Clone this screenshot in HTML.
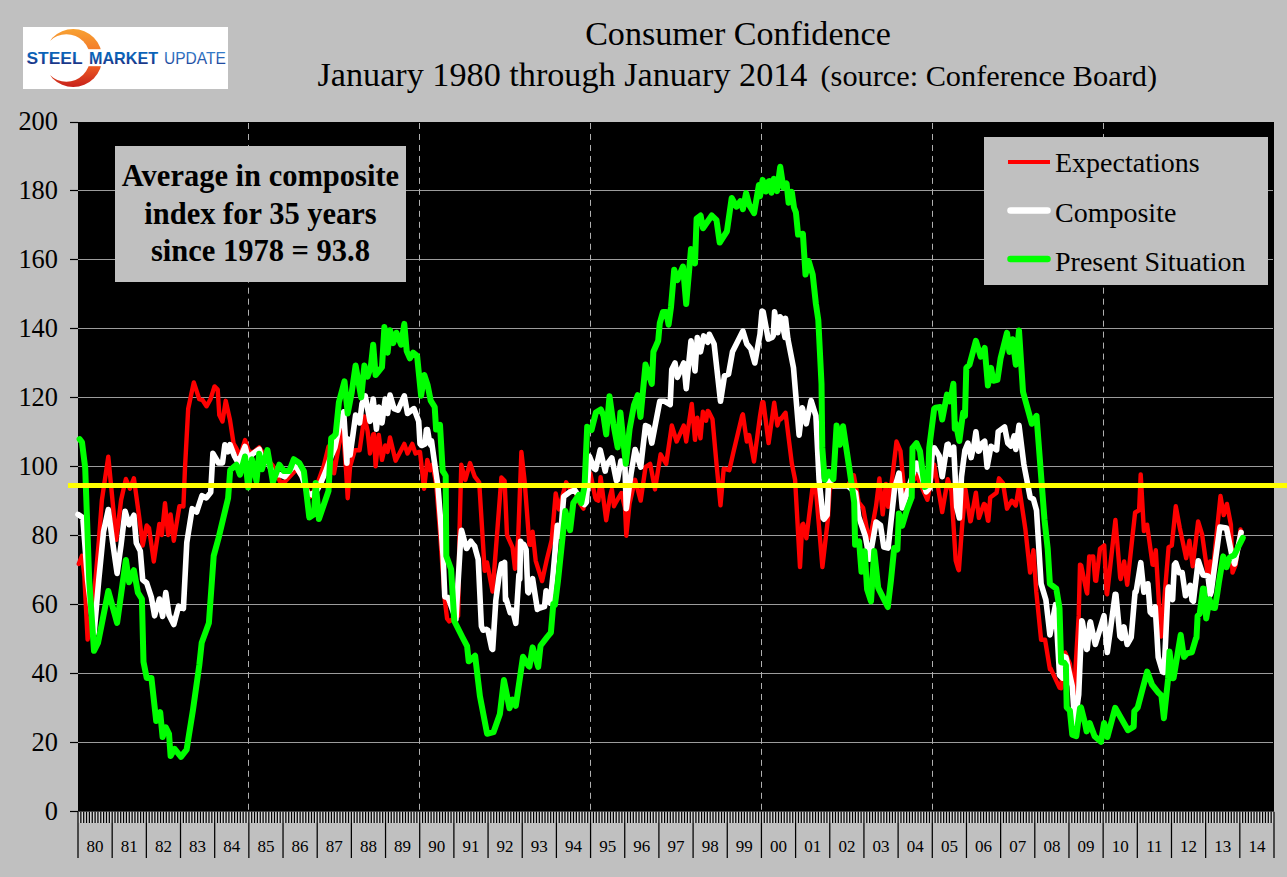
<!DOCTYPE html>
<html><head><meta charset="utf-8"><style>
html,body{margin:0;padding:0;background:#c0c0c0;width:1287px;height:877px;overflow:hidden}
svg{position:absolute;left:0;top:0;font-family:"Liberation Serif",serif;}
</style></head><body>
<svg width="1287" height="877" viewBox="0 0 1287 877">

<defs>
 <linearGradient id="og" x1="0" y1="0" x2="0" y2="1">
  <stop offset="0.1" stop-color="#f8a433"/><stop offset="0.55" stop-color="#f06224"/><stop offset="0.9" stop-color="#bf1218"/>
 </linearGradient>
 <linearGradient id="bg1" x1="0" y1="0" x2="0" y2="1">
  <stop offset="0.4" stop-color="#0b63b8"/><stop offset="0.8" stop-color="#1b3486"/>
 </linearGradient>
 <linearGradient id="bg2" x1="0" y1="0" x2="0" y2="1">
  <stop offset="0" stop-color="#3a8ad6"/><stop offset="1" stop-color="#1a3a90"/>
 </linearGradient>
 <mask id="cm">
  <rect x="0" y="0" width="300" height="120" fill="#000"/>
  <circle cx="73.2" cy="58" r="29" fill="#fff"/>
  <circle cx="66.4" cy="58" r="23.7" fill="#000"/>
  <rect x="0" y="0" width="50.5" height="120" fill="#000"/>
  <rect x="80" y="49.2" width="40" height="17" fill="#000"/>
 </mask>
</defs>
<rect x="23" y="27" width="205" height="62" fill="#fff"/>
<rect x="20" y="20" width="100" height="80" fill="url(#og)" mask="url(#cm)"/>
<text x="26.5" y="63.8" font-family="Liberation Sans" font-weight="bold" font-size="17.2" fill="url(#bg1)" textLength="56" lengthAdjust="spacingAndGlyphs">STEEL</text>
<text x="89" y="63.8" font-family="Liberation Sans" font-weight="bold" font-size="17" fill="url(#bg1)" textLength="69" lengthAdjust="spacingAndGlyphs">MARKET</text>
<text x="164" y="63.8" font-family="Liberation Sans" font-size="17" fill="url(#bg2)" textLength="61.8" lengthAdjust="spacingAndGlyphs">UPDATE</text>

<text x="738" y="45" font-size="34.1" text-anchor="middle">Consumer Confidence</text><text x="317.5" y="86" font-size="34.2">January 1980 through January 2014</text><text x="820.5" y="86" font-size="30.3">(source: Conference Board)</text>
<rect x="78.0" y="122.0" width="1196.0" height="689.8" fill="#000"/><line x1="78.0" x2="1273.0" y1="190.5" y2="190.5" stroke="#9c9c9c" stroke-width="1"/><line x1="78.0" x2="1273.0" y1="259.5" y2="259.5" stroke="#9c9c9c" stroke-width="1"/><line x1="78.0" x2="1273.0" y1="328.5" y2="328.5" stroke="#9c9c9c" stroke-width="1"/><line x1="78.0" x2="1273.0" y1="397.5" y2="397.5" stroke="#9c9c9c" stroke-width="1"/><line x1="78.0" x2="1273.0" y1="466.5" y2="466.5" stroke="#9c9c9c" stroke-width="1"/><line x1="78.0" x2="1273.0" y1="535.5" y2="535.5" stroke="#9c9c9c" stroke-width="1"/><line x1="78.0" x2="1273.0" y1="604.5" y2="604.5" stroke="#9c9c9c" stroke-width="1"/><line x1="78.0" x2="1273.0" y1="673.5" y2="673.5" stroke="#9c9c9c" stroke-width="1"/><line x1="78.0" x2="1273.0" y1="742.5" y2="742.5" stroke="#9c9c9c" stroke-width="1"/><line x1="70" x2="78.0" y1="122.5" y2="122.5" stroke="#000" stroke-width="1.2"/><line x1="70" x2="78.0" y1="190.5" y2="190.5" stroke="#000" stroke-width="1.2"/><line x1="70" x2="78.0" y1="259.5" y2="259.5" stroke="#000" stroke-width="1.2"/><line x1="70" x2="78.0" y1="328.5" y2="328.5" stroke="#000" stroke-width="1.2"/><line x1="70" x2="78.0" y1="397.5" y2="397.5" stroke="#000" stroke-width="1.2"/><line x1="70" x2="78.0" y1="466.5" y2="466.5" stroke="#000" stroke-width="1.2"/><line x1="70" x2="78.0" y1="535.5" y2="535.5" stroke="#000" stroke-width="1.2"/><line x1="70" x2="78.0" y1="604.5" y2="604.5" stroke="#000" stroke-width="1.2"/><line x1="70" x2="78.0" y1="673.5" y2="673.5" stroke="#000" stroke-width="1.2"/><line x1="70" x2="78.0" y1="742.5" y2="742.5" stroke="#000" stroke-width="1.2"/><line x1="70" x2="78.0" y1="811.5" y2="811.5" stroke="#000" stroke-width="1.2"/><line x1="248.5" x2="248.5" y1="123.0" y2="811.8" stroke="#b0b0b0" stroke-width="1" stroke-dasharray="6 4.98"/><line x1="419.5" x2="419.5" y1="123.0" y2="811.8" stroke="#b0b0b0" stroke-width="1" stroke-dasharray="6 4.98"/><line x1="590.5" x2="590.5" y1="123.0" y2="811.8" stroke="#b0b0b0" stroke-width="1" stroke-dasharray="6 4.98"/><line x1="761.5" x2="761.5" y1="123.0" y2="811.8" stroke="#b0b0b0" stroke-width="1" stroke-dasharray="6 4.98"/><line x1="932.5" x2="932.5" y1="123.0" y2="811.8" stroke="#b0b0b0" stroke-width="1" stroke-dasharray="6 4.98"/><line x1="1103.5" x2="1103.5" y1="123.0" y2="811.8" stroke="#b0b0b0" stroke-width="1" stroke-dasharray="6 4.98"/><rect x="78.0" y="811.8" width="1196.0" height="11" fill="#d4d4d4"/><path d="M78.00,811.8V858M80.85,811.8V823M83.70,811.8V823M86.54,811.8V823M89.39,811.8V823M92.24,811.8V823M95.09,811.8V823M97.93,811.8V823M100.78,811.8V823M103.63,811.8V823M106.48,811.8V823M109.32,811.8V823M112.17,811.8V858M115.02,811.8V823M117.87,811.8V823M120.71,811.8V823M123.56,811.8V823M126.41,811.8V823M129.26,811.8V823M132.10,811.8V823M134.95,811.8V823M137.80,811.8V823M140.65,811.8V823M143.50,811.8V823M146.34,811.8V858M149.19,811.8V823M152.04,811.8V823M154.89,811.8V823M157.73,811.8V823M160.58,811.8V823M163.43,811.8V823M166.28,811.8V823M169.12,811.8V823M171.97,811.8V823M174.82,811.8V823M177.67,811.8V823M180.51,811.8V858M183.36,811.8V823M186.21,811.8V823M189.06,811.8V823M191.90,811.8V823M194.75,811.8V823M197.60,811.8V823M200.45,811.8V823M203.30,811.8V823M206.14,811.8V823M208.99,811.8V823M211.84,811.8V823M214.69,811.8V858M217.53,811.8V823M220.38,811.8V823M223.23,811.8V823M226.08,811.8V823M228.92,811.8V823M231.77,811.8V823M234.62,811.8V823M237.47,811.8V823M240.31,811.8V823M243.16,811.8V823M246.01,811.8V823M248.86,811.8V858M251.70,811.8V823M254.55,811.8V823M257.40,811.8V823M260.25,811.8V823M263.10,811.8V823M265.94,811.8V823M268.79,811.8V823M271.64,811.8V823M274.49,811.8V823M277.33,811.8V823M280.18,811.8V823M283.03,811.8V858M285.88,811.8V823M288.72,811.8V823M291.57,811.8V823M294.42,811.8V823M297.27,811.8V823M300.11,811.8V823M302.96,811.8V823M305.81,811.8V823M308.66,811.8V823M311.50,811.8V823M314.35,811.8V823M317.20,811.8V858M320.05,811.8V823M322.90,811.8V823M325.74,811.8V823M328.59,811.8V823M331.44,811.8V823M334.29,811.8V823M337.13,811.8V823M339.98,811.8V823M342.83,811.8V823M345.68,811.8V823M348.52,811.8V823M351.37,811.8V858M354.22,811.8V823M357.07,811.8V823M359.91,811.8V823M362.76,811.8V823M365.61,811.8V823M368.46,811.8V823M371.30,811.8V823M374.15,811.8V823M377.00,811.8V823M379.85,811.8V823M382.70,811.8V823M385.54,811.8V858M388.39,811.8V823M391.24,811.8V823M394.09,811.8V823M396.93,811.8V823M399.78,811.8V823M402.63,811.8V823M405.48,811.8V823M408.32,811.8V823M411.17,811.8V823M414.02,811.8V823M416.87,811.8V823M419.71,811.8V858M422.56,811.8V823M425.41,811.8V823M428.26,811.8V823M431.10,811.8V823M433.95,811.8V823M436.80,811.8V823M439.65,811.8V823M442.50,811.8V823M445.34,811.8V823M448.19,811.8V823M451.04,811.8V823M453.89,811.8V858M456.73,811.8V823M459.58,811.8V823M462.43,811.8V823M465.28,811.8V823M468.12,811.8V823M470.97,811.8V823M473.82,811.8V823M476.67,811.8V823M479.51,811.8V823M482.36,811.8V823M485.21,811.8V823M488.06,811.8V858M490.90,811.8V823M493.75,811.8V823M496.60,811.8V823M499.45,811.8V823M502.30,811.8V823M505.14,811.8V823M507.99,811.8V823M510.84,811.8V823M513.69,811.8V823M516.53,811.8V823M519.38,811.8V823M522.23,811.8V858M525.08,811.8V823M527.92,811.8V823M530.77,811.8V823M533.62,811.8V823M536.47,811.8V823M539.31,811.8V823M542.16,811.8V823M545.01,811.8V823M547.86,811.8V823M550.70,811.8V823M553.55,811.8V823M556.40,811.8V858M559.25,811.8V823M562.10,811.8V823M564.94,811.8V823M567.79,811.8V823M570.64,811.8V823M573.49,811.8V823M576.33,811.8V823M579.18,811.8V823M582.03,811.8V823M584.88,811.8V823M587.72,811.8V823M590.57,811.8V858M593.42,811.8V823M596.27,811.8V823M599.11,811.8V823M601.96,811.8V823M604.81,811.8V823M607.66,811.8V823M610.50,811.8V823M613.35,811.8V823M616.20,811.8V823M619.05,811.8V823M621.90,811.8V823M624.74,811.8V858M627.59,811.8V823M630.44,811.8V823M633.29,811.8V823M636.13,811.8V823M638.98,811.8V823M641.83,811.8V823M644.68,811.8V823M647.52,811.8V823M650.37,811.8V823M653.22,811.8V823M656.07,811.8V823M658.91,811.8V858M661.76,811.8V823M664.61,811.8V823M667.46,811.8V823M670.30,811.8V823M673.15,811.8V823M676.00,811.8V823M678.85,811.8V823M681.70,811.8V823M684.54,811.8V823M687.39,811.8V823M690.24,811.8V823M693.09,811.8V858M695.93,811.8V823M698.78,811.8V823M701.63,811.8V823M704.48,811.8V823M707.32,811.8V823M710.17,811.8V823M713.02,811.8V823M715.87,811.8V823M718.71,811.8V823M721.56,811.8V823M724.41,811.8V823M727.26,811.8V858M730.10,811.8V823M732.95,811.8V823M735.80,811.8V823M738.65,811.8V823M741.50,811.8V823M744.34,811.8V823M747.19,811.8V823M750.04,811.8V823M752.89,811.8V823M755.73,811.8V823M758.58,811.8V823M761.43,811.8V858M764.28,811.8V823M767.12,811.8V823M769.97,811.8V823M772.82,811.8V823M775.67,811.8V823M778.51,811.8V823M781.36,811.8V823M784.21,811.8V823M787.06,811.8V823M789.90,811.8V823M792.75,811.8V823M795.60,811.8V858M798.45,811.8V823M801.30,811.8V823M804.14,811.8V823M806.99,811.8V823M809.84,811.8V823M812.69,811.8V823M815.53,811.8V823M818.38,811.8V823M821.23,811.8V823M824.08,811.8V823M826.92,811.8V823M829.77,811.8V858M832.62,811.8V823M835.47,811.8V823M838.31,811.8V823M841.16,811.8V823M844.01,811.8V823M846.86,811.8V823M849.70,811.8V823M852.55,811.8V823M855.40,811.8V823M858.25,811.8V823M861.10,811.8V823M863.94,811.8V858M866.79,811.8V823M869.64,811.8V823M872.49,811.8V823M875.33,811.8V823M878.18,811.8V823M881.03,811.8V823M883.88,811.8V823M886.72,811.8V823M889.57,811.8V823M892.42,811.8V823M895.27,811.8V823M898.11,811.8V858M900.96,811.8V823M903.81,811.8V823M906.66,811.8V823M909.50,811.8V823M912.35,811.8V823M915.20,811.8V823M918.05,811.8V823M920.90,811.8V823M923.74,811.8V823M926.59,811.8V823M929.44,811.8V823M932.29,811.8V858M935.13,811.8V823M937.98,811.8V823M940.83,811.8V823M943.68,811.8V823M946.52,811.8V823M949.37,811.8V823M952.22,811.8V823M955.07,811.8V823M957.91,811.8V823M960.76,811.8V823M963.61,811.8V823M966.46,811.8V858M969.30,811.8V823M972.15,811.8V823M975.00,811.8V823M977.85,811.8V823M980.70,811.8V823M983.54,811.8V823M986.39,811.8V823M989.24,811.8V823M992.09,811.8V823M994.93,811.8V823M997.78,811.8V823M1000.63,811.8V858M1003.48,811.8V823M1006.32,811.8V823M1009.17,811.8V823M1012.02,811.8V823M1014.87,811.8V823M1017.71,811.8V823M1020.56,811.8V823M1023.41,811.8V823M1026.26,811.8V823M1029.10,811.8V823M1031.95,811.8V823M1034.80,811.8V858M1037.65,811.8V823M1040.50,811.8V823M1043.34,811.8V823M1046.19,811.8V823M1049.04,811.8V823M1051.89,811.8V823M1054.73,811.8V823M1057.58,811.8V823M1060.43,811.8V823M1063.28,811.8V823M1066.12,811.8V823M1068.97,811.8V858M1071.82,811.8V823M1074.67,811.8V823M1077.51,811.8V823M1080.36,811.8V823M1083.21,811.8V823M1086.06,811.8V823M1088.90,811.8V823M1091.75,811.8V823M1094.60,811.8V823M1097.45,811.8V823M1100.30,811.8V823M1103.14,811.8V858M1105.99,811.8V823M1108.84,811.8V823M1111.69,811.8V823M1114.53,811.8V823M1117.38,811.8V823M1120.23,811.8V823M1123.08,811.8V823M1125.92,811.8V823M1128.77,811.8V823M1131.62,811.8V823M1134.47,811.8V823M1137.31,811.8V858M1140.16,811.8V823M1143.01,811.8V823M1145.86,811.8V823M1148.70,811.8V823M1151.55,811.8V823M1154.40,811.8V823M1157.25,811.8V823M1160.10,811.8V823M1162.94,811.8V823M1165.79,811.8V823M1168.64,811.8V823M1171.49,811.8V858M1174.33,811.8V823M1177.18,811.8V823M1180.03,811.8V823M1182.88,811.8V823M1185.72,811.8V823M1188.57,811.8V823M1191.42,811.8V823M1194.27,811.8V823M1197.11,811.8V823M1199.96,811.8V823M1202.81,811.8V823M1205.66,811.8V858M1208.50,811.8V823M1211.35,811.8V823M1214.20,811.8V823M1217.05,811.8V823M1219.90,811.8V823M1222.74,811.8V823M1225.59,811.8V823M1228.44,811.8V823M1231.29,811.8V823M1234.13,811.8V823M1236.98,811.8V823M1239.83,811.8V858M1242.68,811.8V823M1245.52,811.8V823M1248.37,811.8V823M1251.22,811.8V823M1254.07,811.8V823M1256.91,811.8V823M1259.76,811.8V823M1262.61,811.8V823M1265.46,811.8V823M1268.30,811.8V823M1271.15,811.8V823M1274.00,811.8V858" stroke="#000" stroke-width="1.25" fill="none"/><text x="95.1" y="851.5" font-size="17" text-anchor="middle">80</text><text x="129.3" y="851.5" font-size="17" text-anchor="middle">81</text><text x="163.4" y="851.5" font-size="17" text-anchor="middle">82</text><text x="197.6" y="851.5" font-size="17" text-anchor="middle">83</text><text x="231.8" y="851.5" font-size="17" text-anchor="middle">84</text><text x="265.9" y="851.5" font-size="17" text-anchor="middle">85</text><text x="300.1" y="851.5" font-size="17" text-anchor="middle">86</text><text x="334.3" y="851.5" font-size="17" text-anchor="middle">87</text><text x="368.5" y="851.5" font-size="17" text-anchor="middle">88</text><text x="402.6" y="851.5" font-size="17" text-anchor="middle">89</text><text x="436.8" y="851.5" font-size="17" text-anchor="middle">90</text><text x="471.0" y="851.5" font-size="17" text-anchor="middle">91</text><text x="505.1" y="851.5" font-size="17" text-anchor="middle">92</text><text x="539.3" y="851.5" font-size="17" text-anchor="middle">93</text><text x="573.5" y="851.5" font-size="17" text-anchor="middle">94</text><text x="607.7" y="851.5" font-size="17" text-anchor="middle">95</text><text x="641.8" y="851.5" font-size="17" text-anchor="middle">96</text><text x="676.0" y="851.5" font-size="17" text-anchor="middle">97</text><text x="710.2" y="851.5" font-size="17" text-anchor="middle">98</text><text x="744.3" y="851.5" font-size="17" text-anchor="middle">99</text><text x="778.5" y="851.5" font-size="17" text-anchor="middle">00</text><text x="812.7" y="851.5" font-size="17" text-anchor="middle">01</text><text x="846.9" y="851.5" font-size="17" text-anchor="middle">02</text><text x="881.0" y="851.5" font-size="17" text-anchor="middle">03</text><text x="915.2" y="851.5" font-size="17" text-anchor="middle">04</text><text x="949.4" y="851.5" font-size="17" text-anchor="middle">05</text><text x="983.5" y="851.5" font-size="17" text-anchor="middle">06</text><text x="1017.7" y="851.5" font-size="17" text-anchor="middle">07</text><text x="1051.9" y="851.5" font-size="17" text-anchor="middle">08</text><text x="1086.1" y="851.5" font-size="17" text-anchor="middle">09</text><text x="1120.2" y="851.5" font-size="17" text-anchor="middle">10</text><text x="1154.4" y="851.5" font-size="17" text-anchor="middle">11</text><text x="1188.6" y="851.5" font-size="17" text-anchor="middle">12</text><text x="1222.7" y="851.5" font-size="17" text-anchor="middle">13</text><text x="1256.9" y="851.5" font-size="17" text-anchor="middle">14</text><text x="58" y="129.9" font-size="26.4" text-anchor="end">200</text><text x="58" y="198.9" font-size="26.4" text-anchor="end">180</text><text x="58" y="267.9" font-size="26.4" text-anchor="end">160</text><text x="58" y="336.8" font-size="26.4" text-anchor="end">140</text><text x="58" y="405.8" font-size="26.4" text-anchor="end">120</text><text x="58" y="474.8" font-size="26.4" text-anchor="end">100</text><text x="58" y="543.8" font-size="26.4" text-anchor="end">80</text><text x="58" y="612.8" font-size="26.4" text-anchor="end">60</text><text x="58" y="681.7" font-size="26.4" text-anchor="end">40</text><text x="58" y="750.7" font-size="26.4" text-anchor="end">20</text><text x="58" y="819.7" font-size="26.4" text-anchor="end">0</text>
<path d="M78.8,563.9 L82.0,555.9 L84.4,576.6 L87.6,639.6 L94.0,595.8 L98.8,541.5 L101.9,500.0 L108.3,456.6 L116.3,539.9 L121.1,500.0 L125.9,479.0 L129.9,488.6 L133.9,478.2 L139.5,519.2 L142.7,545.5 L146.7,525.5 L149.0,527.9 L153.8,561.5 L159.4,523.9 L161.8,535.1 L165.0,503.2 L168.2,535.1 L170.6,514.4 L173.8,540.7 L179.4,506.3 L182.6,506.1 L183.4,506.4 L185.0,467.8 L188.2,408.7 L193.8,382.4 L199.3,399.2 L202.5,400.0 L206.5,406.3 L210.5,399.2 L214.5,386.4 L217.7,389.6 L219.3,415.1 L222.5,421.5 L225.7,400.8 L230.0,420.0 L233.6,443.7 L236.4,448.3 L240.0,456.5 L245.0,440.1 L249.2,451.9 L253.7,451.9 L259.2,447.4 L266.5,458.3 L272.9,465.6 L280.2,482.0 L284.7,482.0 L296.6,469.3 L303.0,478.4 L310.3,496.6 L316.7,485.7 L323.9,465.6 L328.5,446.5 L334.0,473.3 L340.5,436.0 L342.1,432.5 L342.9,428.0 L346.1,471.1 L347.7,498.2 L350.1,466.3 L354.8,450.3 L359.6,450.3 L364.4,416.5 L367.6,430.9 L370.0,453.5 L373.2,434.4 L374.0,434.1 L375.6,466.3 L378.8,435.0 L382.0,459.9 L385.2,445.5 L387.6,451.9 L390.0,437.4 L395.6,460.7 L404.3,443.9 L407.5,453.5 L412.3,443.9 L415.5,453.5 L418.7,451.9 L420.0,451.9 L424.1,488.7 L427.3,459.9 L430.1,470.3 L432.5,464.7 L436.1,483.1 L440.0,531.3 L441.7,556.5 L444.8,599.9 L447.1,618.7 L449.2,621.4 L458.1,615.9 L459.5,531.0 L461.3,464.7 L465.3,479.9 L470.0,463.1 L474.8,476.7 L479.2,482.3 L484.7,570.8 L487.0,562.4 L492.6,591.5 L496.6,540.0 L501.4,477.5 L504.6,480.7 L507.0,535.0 L512.6,547.7 L515.0,568.7 L518.1,540.0 L521.4,451.9 L524.6,480.7 L529.4,544.5 L530.9,544.8 L532.6,531.8 L535.7,560.8 L542.1,581.1 L546.9,559.2 L551.7,540.0 L555.7,493.4 L558.9,509.4 L566.1,482.3 L570.9,490.2 L574.9,490.2 L579.7,503.0 L583.4,508.6 L589.2,472.7 L590.4,473.4 L595.2,497.4 L596.4,499.8 L598.4,500.6 L600.6,477.1 L606.2,520.2 L610.0,496.6 L611.9,489.4 L614.0,506.2 L615.1,503.8 L621.3,493.0 L625.0,507.8 L626.3,535.7 L629.5,503.8 L635.1,479.8 L640.7,500.6 L645.5,467.1 L650.2,463.9 L655.0,489.4 L660.6,454.3 L666.2,463.9 L671.8,425.5 L676.6,441.5 L683.8,425.5 L686.2,441.5 L691.8,403.9 L695.0,439.9 L697.3,417.6 L700.5,438.3 L702.9,411.8 L706.1,420.8 L707.7,410.9 L708.5,411.2 L712.5,419.2 L716.5,463.9 L720.5,505.4 L723.7,468.7 L729.3,470.2 L733.3,452.7 L742.1,415.7 L742.9,414.4 L746.8,441.5 L749.2,435.1 L754.0,461.5 L760.0,416.0 L762.2,402.3 L763.4,402.3 L768.6,443.1 L774.2,402.7 L777.4,425.5 L779.2,418.9 L780.8,419.2 L784.4,414.1 L785.0,417.6 L785.5,412.6 L791.9,463.9 L795.1,479.8 L800.0,567.1 L802.3,524.5 L803.2,523.9 L806.4,538.3 L812.7,486.2 L815.9,489.4 L822.4,567.1 L827.9,519.2 L830.2,479.8 L832.6,487.0 L835.9,485.7 L847.9,485.7 L853.8,475.2 L858.7,502.4 L863.1,507.9 L867.4,531.8 L870.2,538.3 L876.1,505.7 L879.4,478.5 L882.7,514.4 L885.9,483.9 L888.1,506.8 L891.4,485.0 L896.5,441.5 L900.5,451.1 L904.5,495.8 L907.7,491.0 L916.5,475.0 L927.4,499.8 L934.2,464.7 L942.2,512.1 L947.8,479.1 L951.4,491.0 L955.7,560.7 L958.3,569.3 L958.9,570.2 L962.3,523.0 L965.5,489.5 L970.3,521.4 L970.8,520.8 L975.9,492.7 L978.9,517.9 L983.9,503.9 L985.2,504.8 L987.9,520.6 L988.4,520.8 L990.2,497.5 L996.6,492.7 L999.0,478.3 L1003.0,483.1 L1007.0,508.7 L1011.8,500.7 L1015.8,505.5 L1019.0,486.3 L1025.4,529.4 L1030.1,572.6 L1033.4,550.2 L1036.3,591.9 L1041.1,639.8 L1045.1,639.8 L1049.9,669.2 L1050.7,668.6 L1059.5,687.7 L1061.1,688.3 L1064.3,653.2 L1065.1,652.6 L1069.9,663.8 L1071.5,678.7 L1073.1,679.7 L1073.9,694.7 L1078.7,615.9 L1080.0,564.6 L1081.2,565.5 L1086.6,591.9 L1087.2,593.4 L1089.2,556.5 L1090.4,556.6 L1093.2,556.5 L1095.2,580.6 L1096.2,580.8 L1100.0,548.7 L1104.2,545.4 L1106.6,593.5 L1107.1,594.2 L1115.4,519.9 L1120.2,577.6 L1120.7,579.0 L1124.1,561.4 L1127.2,584.7 L1135.1,512.5 L1139.1,510.3 L1140.7,474.4 L1143.9,531.1 L1146.2,525.1 L1147.1,524.7 L1152.6,564.6 L1153.7,564.8 L1155.8,550.2 L1160.9,636.6 L1161.4,634.7 L1168.6,547.1 L1171.8,545.5 L1175.8,506.3 L1179.8,527.9 L1186.2,558.2 L1189.4,540.7 L1192.7,566.3 L1198.1,521.5 L1202.1,534.3 L1207.9,575.9 L1210.1,561.4 L1212.5,574.2 L1220.5,496.0 L1223.7,515.1 L1226.9,503.9 L1230.9,524.7 L1232.5,572.6 L1235.7,564.6 L1240.5,529.5 L1241.3,532.7" stroke="#ff0000" stroke-width="4.4" fill="none" stroke-linejoin="round" stroke-linecap="round"/><path d="M78.0,514.4 L82.8,517.6 L87.6,579.8 L94.0,634.0 L98.8,579.8 L103.5,531.9 L108.3,509.6 L112.3,539.9 L117.1,573.4 L121.1,544.7 L125.1,511.2 L129.1,524.7 L133.9,515.2 L136.3,543.1 L140.3,551.1 L142.7,579.8 L146.7,583.0 L151.4,597.4 L154.6,615.8 L159.4,599.0 L162.6,616.5 L165.8,592.6 L169.0,615.0 L173.8,624.5 L178.6,606.2 L183.4,608.6 L186.8,542.5 L192.2,508.7 L196.6,512.0 L202.0,495.7 L206.4,497.9 L210.7,492.4 L212.9,453.3 L218.5,463.0 L222.5,463.0 L224.9,444.7 L228.1,451.8 L230.0,444.6 L234.6,456.5 L238.2,462.9 L245.0,446.5 L248.2,458.3 L252.8,453.7 L259.2,449.2 L263.7,463.8 L267.4,459.2 L272.9,474.7 L280.2,474.7 L284.7,476.6 L293.8,465.6 L296.6,467.4 L302.1,476.6 L307.5,493.0 L312.1,494.8 L317.6,489.3 L321.2,482.0 L325.8,471.1 L330.3,458.3 L334.9,447.4 L338.9,428.0 L343.7,411.8 L346.9,463.1 L347.7,438.9 L350.1,455.1 L353.2,432.8 L355.6,415.0 L359.6,422.9 L362.0,403.8 L365.2,395.8 L370.0,421.3 L373.2,399.0 L376.4,429.3 L378.8,407.0 L382.0,422.9 L385.2,399.0 L387.6,413.4 L390.0,395.0 L394.0,408.6 L398.0,410.2 L404.3,395.8 L407.5,413.4 L413.9,408.6 L418.7,421.3 L420.0,443.9 L421.9,445.5 L425.1,443.9 L426.4,429.6 L427.5,429.6 L429.6,442.4 L430.9,445.4 L431.5,440.8 L434.1,459.6 L437.9,485.7 L440.7,521.6 L443.1,556.0 L444.8,596.7 L447.9,597.5 L449.6,601.5 L455.9,619.5 L460.8,536.7 L461.5,530.2 L466.5,548.5 L467.1,548.0 L470.8,541.3 L473.4,544.8 L474.6,546.1 L475.9,550.9 L478.2,559.2 L481.4,626.2 L483.1,630.2 L486.2,629.4 L487.9,630.2 L491.8,648.6 L492.7,649.4 L495.8,600.7 L499.1,576.0 L501.4,563.9 L503.9,563.2 L504.6,562.4 L505.5,599.9 L506.2,599.1 L510.2,612.7 L512.6,610.2 L515.8,623.4 L518.9,575.1 L519.8,579.2 L520.6,541.3 L521.3,543.2 L523.8,544.5 L526.1,549.6 L527.8,591.9 L528.5,592.7 L532.6,578.7 L537.4,609.5 L538.1,608.7 L544.5,606.7 L546.1,590.7 L549.3,602.3 L550.2,603.1 L553.3,571.9 L557.3,525.4 L560.5,536.5 L563.7,496.6 L570.1,491.8 L574.9,490.2 L584.4,504.6 L586.4,502.2 L589.4,456.3 L594.4,468.7 L595.6,469.5 L600.2,449.9 L605.2,471.1 L606.3,465.5 L611.8,457.9 L616.4,480.7 L617.5,479.8 L620.9,461.1 L625.0,467.9 L626.3,508.6 L631.1,473.4 L635.1,449.5 L640.7,467.1 L645.5,425.5 L648.7,427.1 L651.8,443.1 L658.2,409.6 L659.8,401.3 L664.6,401.3 L670.2,404.5 L671.8,369.4 L675.0,363.0 L677.4,377.4 L683.8,363.0 L686.2,388.6 L691.0,340.7 L695.0,371.0 L697.3,337.5 L700.5,351.8 L703.7,335.9 L707.7,342.3 L709.3,334.3 L714.1,343.9 L720.5,401.3 L724.5,375.8 L728.5,374.2 L732.5,351.8 L742.9,331.1 L746.8,343.9 L750.8,348.7 L754.8,363.0 L760.0,334.3 L762.0,311.1 L763.2,311.9 L768.2,339.1 L772.0,337.5 L773.2,335.9 L774.6,311.9 L777.8,332.7 L780.0,316.7 L781.2,318.3 L785.0,337.5 L785.5,318.3 L787.9,339.1 L793.5,367.8 L799.1,435.1 L802.3,407.9 L806.3,423.8 L811.1,400.5 L815.9,415.8 L819.1,479.8 L823.1,518.1 L823.9,519.2 L827.1,515.0 L828.7,479.8 L830.5,484.5 L833.7,485.9 L847.9,485.9 L855.5,492.6 L858.7,516.6 L865.3,536.1 L869.5,559.2 L876.1,522.0 L880.5,525.3 L883.8,547.0 L888.1,548.1 L894.6,488.3 L899.0,473.1 L902.3,507.9 L906.1,495.8 L910.1,483.0 L916.5,463.1 L921.3,475.0 L926.2,491.8 L929.6,487.9 L932.4,451.1 L934.4,447.9 L939.2,456.0 L942.2,476.7 L947.1,444.8 L948.2,444.2 L950.3,454.4 L953.7,447.1 L956.7,507.1 L959.4,518.0 L961.5,476.7 L964.9,450.3 L967.9,443.2 L971.1,457.6 L974.3,443.2 L975.9,431.8 L978.3,451.2 L979.1,450.9 L982.3,443.2 L984.7,441.3 L987.1,467.1 L991.0,446.3 L996.6,449.9 L998.2,431.8 L1004.6,427.0 L1007.8,443.2 L1011.0,446.1 L1014.2,435.8 L1015.8,449.5 L1019.0,425.4 L1023.8,463.9 L1030.2,497.5 L1033.4,499.1 L1036.5,510.2 L1041.1,583.9 L1045.9,599.9 L1049.9,635.0 L1055.5,604.7 L1059.5,675.2 L1062.7,678.1 L1063.5,656.4 L1065.9,657.4 L1072.3,686.4 L1074.7,723.4 L1078.7,694.7 L1081.8,620.7 L1082.4,621.9 L1086.6,649.4 L1087.2,649.1 L1089.8,623.9 L1090.4,621.9 L1095.3,644.5 L1104.0,615.7 L1107.3,652.4 L1115.2,594.2 L1115.9,594.2 L1119.9,636.3 L1121.8,638.2 L1124.0,626.9 L1127.2,644.5 L1131.2,637.3 L1135.1,591.8 L1136.1,591.9 L1140.8,562.7 L1143.9,592.3 L1147.3,583.9 L1147.9,583.8 L1150.2,612.4 L1151.0,612.5 L1152.1,614.3 L1155.2,606.9 L1156.8,632.6 L1158.2,657.1 L1162.5,671.8 L1163.0,671.4 L1164.1,672.4 L1167.0,610.8 L1168.1,588.7 L1168.6,587.0 L1172.6,599.7 L1174.4,564.8 L1175.8,563.0 L1179.2,572.8 L1182.2,572.6 L1185.5,595.8 L1190.2,585.4 L1192.0,599.9 L1193.4,601.3 L1198.3,560.7 L1203.1,575.1 L1208.0,576.0 L1210.1,595.0 L1211.2,591.9 L1219.9,527.0 L1226.5,528.1 L1231.9,555.3 L1234.6,564.0 L1241.1,532.4" stroke="#ffffff" stroke-width="5.6" fill="none" stroke-linejoin="round" stroke-linecap="round"/><path d="M79.6,439.1 L82.0,442.3 L85.2,467.8 L89.2,579.8 L94.0,650.8 L98.0,642.8 L101.9,623.3 L108.3,591.0 L117.1,622.9 L121.1,594.2 L125.9,559.9 L129.1,582.2 L133.9,570.2 L137.9,592.6 L141.9,599.0 L143.5,661.9 L146.7,677.9 L151.4,677.9 L156.2,721.0 L160.2,712.2 L162.6,737.0 L165.8,727.4 L169.0,733.8 L170.6,756.1 L174.6,748.9 L181.0,756.9 L186.6,749.7 L193.0,709.8 L199.3,665.1 L201.7,642.8 L208.9,622.9 L213.7,555.9 L218.5,538.3 L228.1,498.1 L230.2,470.1 L236.4,464.7 L240.0,474.7 L245.0,456.5 L248.2,487.5 L251.9,459.2 L256.5,481.1 L259.2,453.7 L261.9,469.3 L267.4,450.1 L272.9,482.0 L279.3,464.7 L283.8,471.1 L289.3,471.1 L293.8,459.2 L299.3,462.9 L303.9,471.1 L309.3,517.4 L314.1,514.2 L315.7,482.9 L318.9,519.0 L328.5,491.1 L331.2,438.2 L334.0,436.2 L335.7,434.1 L338.9,402.2 L344.5,381.4 L347.7,413.4 L351.7,392.6 L355.6,365.5 L361.2,397.4 L364.4,365.5 L367.6,376.6 L370.8,367.1 L373.2,344.7 L375.6,375.0 L382.0,367.1 L384.4,327.1 L387.6,352.7 L390.0,330.3 L393.2,343.1 L396.4,332.7 L401.1,344.7 L404.3,323.9 L406.7,351.1 L409.9,358.3 L413.1,352.7 L417.1,355.9 L421.1,395.8 L424.3,375.0 L427.5,384.6 L430.7,400.6 L434.7,407.0 L436.1,429.5 L437.9,429.6 L440.0,424.8 L442.7,471.1 L443.9,472.7 L445.7,475.9 L446.3,556.0 L451.1,569.2 L454.3,621.0 L462.3,637.0 L467.1,646.2 L468.7,661.3 L469.5,660.9 L475.1,655.7 L479.9,696.0 L487.1,733.8 L493.5,732.2 L499.9,713.9 L503.9,680.0 L509.5,708.3 L512.6,699.5 L515.8,705.9 L523.0,656.8 L528.6,666.0 L529.4,666.5 L532.6,647.4 L538.2,666.9 L540.5,645.8 L546.9,637.4 L550.2,633.4 L550.9,632.6 L553.3,603.9 L555.0,604.7 L558.1,579.9 L565.3,511.0 L570.1,530.2 L573.3,503.0 L578.9,495.0 L580.0,500.6 L581.3,503.0 L584.6,485.8 L587.2,426.8 L591.5,430.0 L595.9,412.6 L600.8,409.4 L603.5,415.9 L606.2,434.4 L609.5,396.3 L613.3,423.5 L617.7,447.4 L620.4,412.6 L625.8,463.8 L629.6,429.0 L634.0,405.0 L637.8,395.2 L640.5,417.0 L645.5,364.6 L651.8,383.8 L653.4,351.8 L658.2,340.7 L659.8,323.1 L663.0,311.9 L666.2,311.9 L668.6,324.7 L671.0,307.1 L674.2,269.7 L677.4,280.1 L683.0,266.5 L686.2,303.9 L691.0,249.0 L695.0,263.4 L696.6,218.7 L700.6,215.5 L703.0,228.2 L711.8,215.5 L716.5,220.2 L719.7,242.6 L726.9,231.4 L731.7,197.9 L736.5,206.7 L740.5,201.1 L742.9,209.1 L746.1,193.1 L749.3,205.1 L754.1,213.1 L758.9,185.1 L760.0,196.3 L762.6,179.9 L765.8,191.5 L768.0,181.9 L769.2,181.1 L771.4,192.7 L773.8,178.7 L777.0,191.1 L780.2,166.8 L783.4,187.5 L786.6,183.5 L788.6,202.7 L791.8,191.9 L794.0,207.5 L795.9,212.3 L798.1,234.6 L802.9,233.8 L805.5,274.5 L808.7,261.0 L812.7,274.5 L815.9,303.9 L818.3,319.9 L819.9,351.8 L821.5,383.8 L822.3,447.9 L824.7,479.8 L828.7,471.8 L833.4,479.0 L836.6,425.5 L839.8,444.7 L843.0,426.3 L849.4,468.7 L854.2,502.2 L855.1,544.7 L859.1,541.5 L861.5,571.8 L864.7,551.1 L867.1,589.4 L871.0,601.4 L874.2,551.1 L878.2,587.8 L887.8,607.0 L891.0,579.8 L894.2,547.9 L897.4,549.5 L898.9,513.4 L902.1,525.8 L906.9,509.9 L911.7,497.4 L912.5,447.9 L916.5,443.1 L920.0,451.2 L924.6,487.1 L928.0,484.7 L929.2,447.9 L934.2,408.7 L935.6,407.7 L940.3,407.0 L942.2,419.5 L947.0,394.6 L950.2,401.4 L953.4,383.8 L954.8,428.7 L955.9,423.8 L959.3,441.0 L963.1,412.6 L965.0,416.0 L966.3,367.9 L969.5,364.7 L975.9,340.8 L980.7,356.7 L984.7,347.9 L987.9,385.5 L991.0,367.9 L993.4,380.7 L997.4,379.9 L1000.6,358.3 L1007.0,332.8 L1009.4,351.9 L1012.6,339.2 L1015.8,364.7 L1019.0,330.4 L1023.0,391.8 L1031.8,423.8 L1036.5,415.8 L1041.3,478.3 L1044.5,519.8 L1047.7,548.6 L1049.9,583.9 L1056.3,588.7 L1059.5,607.9 L1061.1,662.2 L1064.3,662.8 L1065.9,665.4 L1066.7,707.5 L1069.9,710.7 L1072.3,734.6 L1076.3,736.2 L1080.0,708.1 L1081.0,707.5 L1084.8,722.5 L1086.6,731.4 L1089.7,723.0 L1094.6,736.2 L1101.0,741.8 L1104.1,723.0 L1107.4,737.0 L1115.2,707.8 L1121.6,719.0 L1128.0,730.2 L1133.7,726.6 L1134.3,711.3 L1137.7,707.5 L1147.2,671.6 L1152.0,684.6 L1158.5,692.8 L1161.4,695.4 L1163.9,718.2 L1168.1,678.7 L1169.5,651.6 L1172.7,678.3 L1173.6,678.1 L1180.7,634.9 L1183.9,656.9 L1187.2,653.2 L1190.4,652.6 L1191.8,652.3 L1196.0,638.2 L1196.5,637.9 L1197.6,615.9 L1199.7,613.9 L1202.9,588.6 L1204.0,588.7 L1206.2,618.4 L1209.4,599.2 L1212.5,607.6 L1213.3,607.7 L1215.0,607.9 L1217.3,593.2 L1218.9,582.2 L1223.2,556.4 L1226.5,567.2 L1229.7,557.4 L1234.1,555.3 L1238.4,546.6 L1242.8,537.9" stroke="#00ff00" stroke-width="6" fill="none" stroke-linejoin="round" stroke-linecap="round"/>
<rect x="115" y="146" width="291" height="136" fill="#c0c0c0"/><g font-weight="bold" font-size="30.5" text-anchor="middle"><text x="260.5" y="186">Average in composite</text><text x="260.5" y="223.5">index for 35 years</text><text x="260.5" y="261">since 1978 = 93.8</text></g><rect x="984" y="137" width="284" height="148" fill="#c0c0c0"/><line x1="1008" x2="1050" y1="162" y2="162" stroke="#ff0000" stroke-width="4"/><line x1="1010.5" x2="1047.5" y1="210.5" y2="210.5" stroke="#ffffff" stroke-width="6.5" stroke-linecap="round"/><line x1="1010.5" x2="1047.5" y1="259" y2="259" stroke="#00ff00" stroke-width="6.5" stroke-linecap="round"/><g font-size="28"><text x="1055" y="172">Expectations</text><text x="1055" y="222">Composite</text><text x="1055" y="271">Present Situation</text></g>
<rect x="68" y="483" width="1219" height="5" fill="#ffff00"/>
</svg>
</body></html>
